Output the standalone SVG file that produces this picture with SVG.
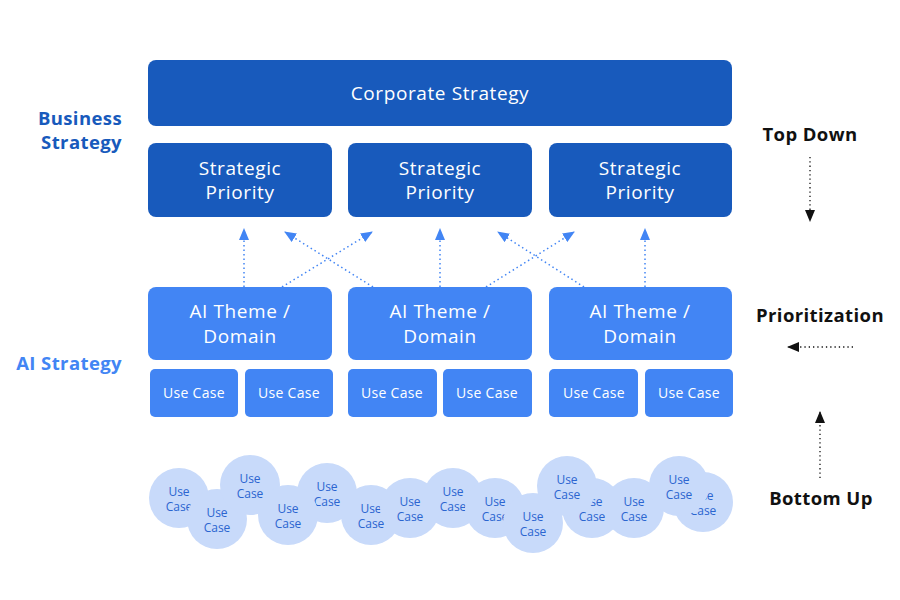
<svg xmlns="http://www.w3.org/2000/svg" width="900" height="600" viewBox="0 0 900 600">
<defs>
<style>
.dark{fill:#185ABC}
.mid{fill:#4285F4}
.wt{fill:#fff;font-family:"Open Sans","Liberation Sans",sans-serif;text-anchor:middle}
.big{font-size:19px;letter-spacing:0.6px}
.sm{font-size:14px;letter-spacing:0.3px}
.cl{fill:#C8DAFA}
.ct{fill:#2B65D0;font-family:"Open Sans","Liberation Sans",sans-serif;font-size:12px;text-anchor:middle}
.lab{font-family:"Open Sans","Liberation Sans",sans-serif;font-weight:bold;font-size:18.5px;letter-spacing:0.4px}
.con{fill:none;stroke:#4285F4;stroke-width:1.5;stroke-dasharray:1.5 3}
.side{fill:none;stroke:#111;stroke-width:1.3;stroke-dasharray:1.3 3}
</style>
<marker id="ab" viewBox="0 0 12 10" refX="11" refY="5" markerWidth="12" markerHeight="10" markerUnits="userSpaceOnUse" orient="auto"><path d="M0,0 L12,5 L0,10 Z" fill="#4285F4"/></marker>
<marker id="ak" viewBox="0 0 12 10" refX="11" refY="5" markerWidth="12" markerHeight="10" markerUnits="userSpaceOnUse" orient="auto"><path d="M0,0 L12,5 L0,10 Z" fill="#111"/></marker>
</defs>
<rect width="900" height="600" fill="#fff"/>

<g id="labels">
<text class="lab" x="122" y="125" text-anchor="end" fill="#185ABC">Business</text>
<text class="lab" x="122" y="149" text-anchor="end" fill="#185ABC">Strategy</text>
<text class="lab" x="122" y="370" text-anchor="end" fill="#4285F4">AI Strategy</text>
<text class="lab" x="810" y="141" text-anchor="middle" fill="#111">Top Down</text>
<text class="lab" x="820" y="322" text-anchor="middle" fill="#111">Prioritization</text>
<text class="lab" x="821" y="505" text-anchor="middle" fill="#111">Bottom Up</text>
</g>

<g id="corporate"><rect class="dark" x="148" y="60" width="584" height="66" rx="8"/><text class="wt big" x="440" y="100">Corporate Strategy</text></g>

<g id="sp1"><rect class="dark" x="148" y="143" width="184" height="74" rx="8"/><text class="wt big" x="240" y="175">Strategic</text><text class="wt big" x="240" y="199">Priority</text></g>
<g id="sp2"><rect class="dark" x="348" y="143" width="184" height="74" rx="8"/><text class="wt big" x="440" y="175">Strategic</text><text class="wt big" x="440" y="199">Priority</text></g>
<g id="sp3"><rect class="dark" x="549" y="143" width="183" height="74" rx="8"/><text class="wt big" x="640" y="175">Strategic</text><text class="wt big" x="640" y="199">Priority</text></g>

<g id="ai1"><rect class="mid" x="148" y="287" width="184" height="73" rx="8"/><text class="wt big" x="240" y="318">AI Theme /</text><text class="wt big" x="240" y="343">Domain</text></g>
<g id="ai2"><rect class="mid" x="348" y="287" width="184" height="73" rx="8"/><text class="wt big" x="440" y="318">AI Theme /</text><text class="wt big" x="440" y="343">Domain</text></g>
<g id="ai3"><rect class="mid" x="549" y="287" width="183" height="73" rx="8"/><text class="wt big" x="640" y="318">AI Theme /</text><text class="wt big" x="640" y="343">Domain</text></g>

<g id="uc1a"><rect class="mid" x="150" y="369" width="88" height="48" rx="5"/><text class="wt sm" x="194" y="398">Use Case</text></g>
<g id="uc1b"><rect class="mid" x="245" y="369" width="88" height="48" rx="5"/><text class="wt sm" x="289" y="398">Use Case</text></g>
<g id="uc2a"><rect class="mid" x="348" y="369" width="89" height="48" rx="5"/><text class="wt sm" x="392" y="398">Use Case</text></g>
<g id="uc2b"><rect class="mid" x="443" y="369" width="89" height="48" rx="5"/><text class="wt sm" x="487" y="398">Use Case</text></g>
<g id="uc3a"><rect class="mid" x="549" y="369" width="89" height="48" rx="5"/><text class="wt sm" x="594" y="398">Use Case</text></g>
<g id="uc3b"><rect class="mid" x="645" y="369" width="88" height="48" rx="5"/><text class="wt sm" x="689" y="398">Use Case</text></g>

<g id="connectors">
<line class="con" x1="244" y1="287" x2="244" y2="229" marker-end="url(#ab)"/>
<line class="con" x1="282" y1="287" x2="372" y2="232" marker-end="url(#ab)"/>
<line class="con" x1="373" y1="287" x2="285" y2="232" marker-end="url(#ab)"/>
<line class="con" x1="440" y1="287" x2="440" y2="229" marker-end="url(#ab)"/>
<line class="con" x1="486" y1="287" x2="574" y2="232" marker-end="url(#ab)"/>
<line class="con" x1="584" y1="287" x2="498" y2="232" marker-end="url(#ab)"/>
<line class="con" x1="645" y1="287" x2="645" y2="229" marker-end="url(#ab)"/>
<line class="side" x1="810" y1="157" x2="810" y2="221" marker-end="url(#ak)"/>
<line class="side" x1="853" y1="347" x2="788" y2="347" marker-end="url(#ak)"/>
<line class="side" x1="820" y1="478" x2="820" y2="412" marker-end="url(#ak)"/>
</g>

<g id="cloud">
<g id="cA"><circle class="cl" cx="179" cy="498" r="30"/><text class="ct" x="179" y="496">Use</text><text class="ct" x="179" y="511">Case</text></g>
<g id="cE"><circle class="cl" cx="327" cy="493" r="30"/><text class="ct" x="327" y="491">Use</text><text class="ct" x="327" y="506">Case</text></g>
<g id="cF"><circle class="cl" cx="371" cy="515" r="30"/><text class="ct" x="371" y="513">Use</text><text class="ct" x="371" y="528">Case</text></g>
<g id="cH"><circle class="cl" cx="453" cy="498" r="30"/><text class="ct" x="453" y="496">Use</text><text class="ct" x="453" y="511">Case</text></g>
<g id="cI"><circle class="cl" cx="495" cy="508" r="30"/><text class="ct" x="495" y="506">Use</text><text class="ct" x="495" y="521">Case</text></g>
<g id="cL"><circle class="cl" cx="592" cy="508" r="30"/><text class="ct" x="592" y="506">Use</text><text class="ct" x="592" y="521">Case</text></g>
<g id="cO"><circle class="cl" cx="703" cy="502" r="30"/><text class="ct" x="703" y="500">Use</text><text class="ct" x="703" y="515">Case</text></g>
<g id="cB"><circle class="cl" cx="217" cy="519" r="30"/><text class="ct" x="217" y="517">Use</text><text class="ct" x="217" y="532">Case</text></g>
<g id="cC"><circle class="cl" cx="250" cy="485" r="30"/><text class="ct" x="250" y="483">Use</text><text class="ct" x="250" y="498">Case</text></g>
<g id="cD"><circle class="cl" cx="288" cy="515" r="30"/><text class="ct" x="288" y="513">Use</text><text class="ct" x="288" y="528">Case</text></g>
<g id="cG"><circle class="cl" cx="410" cy="508" r="30"/><text class="ct" x="410" y="506">Use</text><text class="ct" x="410" y="521">Case</text></g>
<g id="cJ"><circle class="cl" cx="533" cy="523" r="30"/><text class="ct" x="533" y="521">Use</text><text class="ct" x="533" y="536">Case</text></g>
<g id="cK"><circle class="cl" cx="567" cy="486" r="30"/><text class="ct" x="567" y="484">Use</text><text class="ct" x="567" y="499">Case</text></g>
<g id="cM"><circle class="cl" cx="634" cy="508" r="30"/><text class="ct" x="634" y="506">Use</text><text class="ct" x="634" y="521">Case</text></g>
<g id="cN"><circle class="cl" cx="679" cy="486" r="30"/><text class="ct" x="679" y="484">Use</text><text class="ct" x="679" y="499">Case</text></g>
</g>
</svg>
